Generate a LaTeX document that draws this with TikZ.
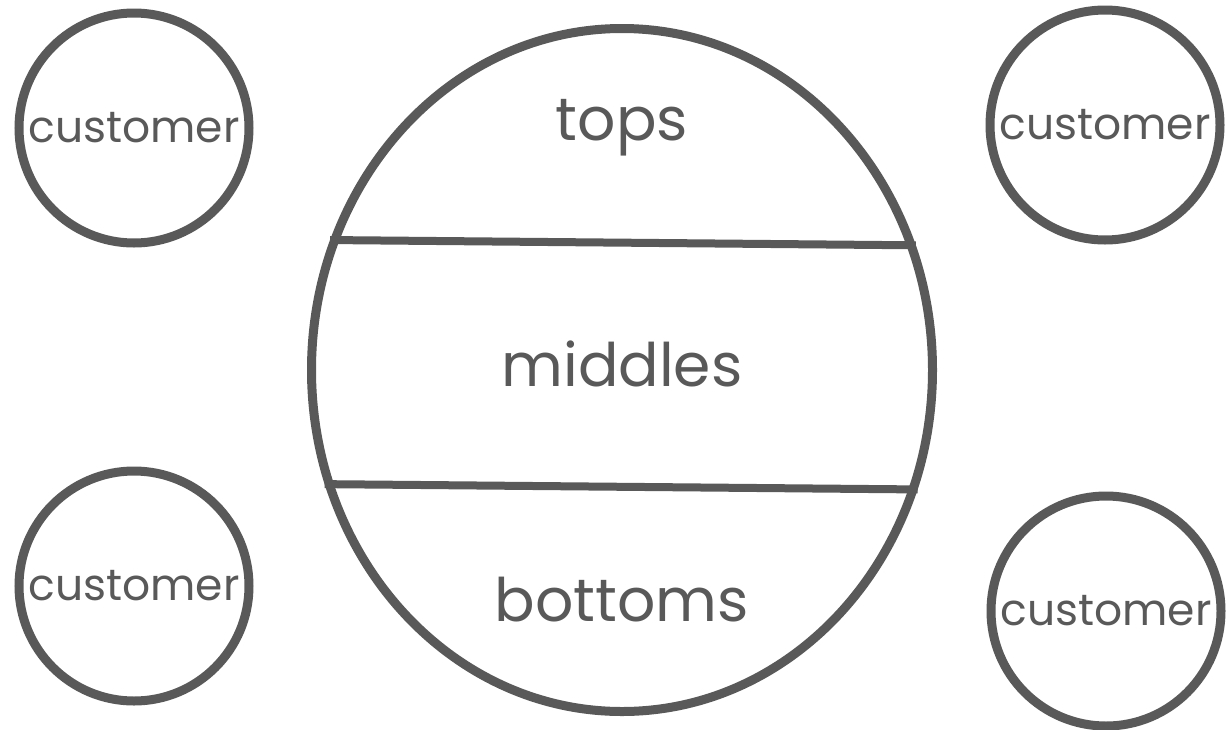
\documentclass[tikz,border=0pt]{standalone}
\usepackage{fontspec}
\setmainfont{Poppins}
\usetikzlibrary{shapes.geometric,positioning}
\definecolor{inkgray}{HTML}{595959}
\tikzset{
  custcircle/.style = {circle, draw=inkgray, line width=9pt, minimum size=230pt,
    inner sep=0pt, text=inkgray, font=\fontsize{44}{44}\selectfont},
  bigoval/.style = {ellipse, draw=inkgray, line width=9pt, minimum width=621pt,
    minimum height=683pt, inner sep=0pt},
  layer/.style = {text=inkgray, font=\fontsize{60}{60}\selectfont},
  divider/.style = {draw=inkgray, line width=8pt}
}

\begin{document}
\begin{tikzpicture}[x=1pt, y=-1pt]
\useasboundingbox (0,0) rectangle (1226,729);

% the shop, split in three layers
\node[bigoval] (store) at (622,370) {};
\draw[divider] (store.156.4) -- (store.23.2);
\draw[divider] (store.201.6) -- (store.338.4);

\node[layer] (tops) at (622,128) {tops};
\node[layer] (middles) at (622,364) {middles};
\node[layer] (bottoms) at (622,600) {bottoms};

% customers round it
\node[custcircle] (custTL) at (134,128) {customer};
\node[custcircle] (custBL) at (134,586) {customer};
\node[custcircle] (custTR) at (1105,125) {customer};
\node[custcircle] (custBR) at (1106,611) {customer};

\end{tikzpicture}
\end{document}
